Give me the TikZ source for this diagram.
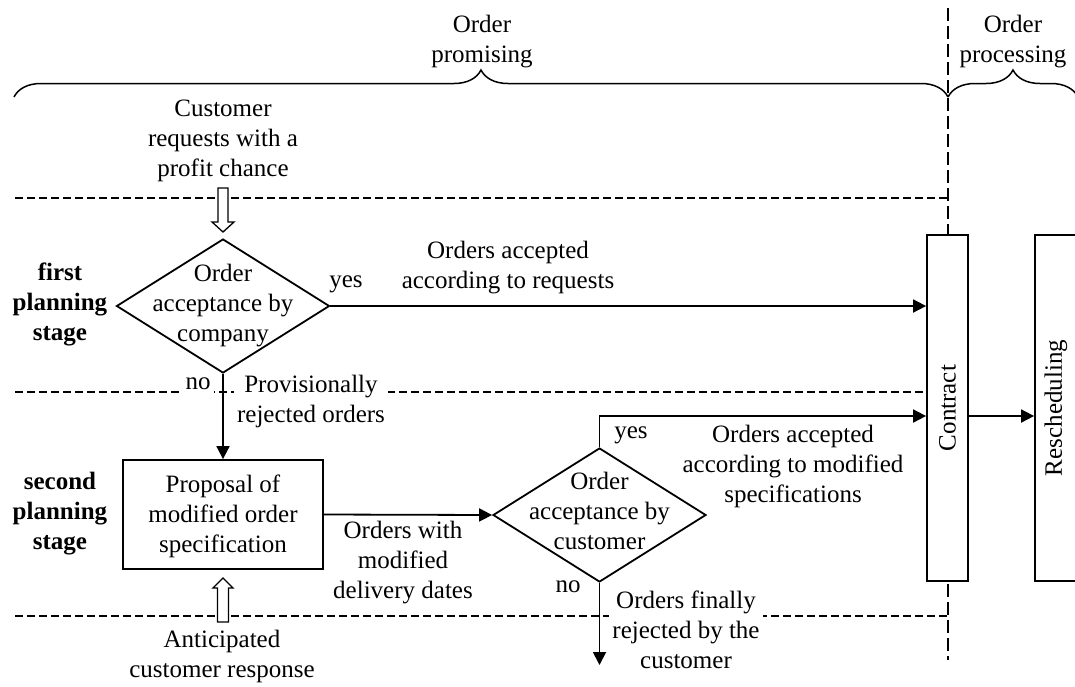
\documentclass[tikz,border=0pt]{standalone}
\usepackage{fontspec}
\setmainfont{Liberation Serif}
\usetikzlibrary{arrows.meta,shapes.geometric,decorations.pathreplacing,calc}
\begin{document}
\begin{tikzpicture}[x=1pt,y=-1pt,
  txt/.style={font=\fontsize{25}{30}\selectfont, align=center, inner sep=2pt},
  boldtxt/.style={txt, font=\fontsize{25}{30}\selectfont\bfseries},
  lbl/.style={txt, fill=white, inner sep=3pt},
  boxnode/.style={draw, line width=1.8pt, fill=white, inner sep=0pt},
  dia/.style={draw, diamond, line width=1.8pt, fill=white, inner sep=0pt, minimum width=213pt, minimum height=134pt},
  flow/.style={line width=1.8pt, -{Triangle[length=13pt,width=13pt]}},
  sepline/.style={line width=1.5pt, dash pattern=on 8pt off 4pt},
  vsepline/.style={line width=1.6pt, dash pattern=on 13pt off 5pt},
  hollow/.style={draw, fill=white, line width=1.3pt, line join=miter},
  br/.style={decorate, decoration={brace, amplitude=27pt}, line width=1.5pt}
]
\path[use as bounding box] (0,0) rectangle (1075,686);
\clip (0,0) rectangle (1075,686);

% separators
\draw[vsepline] (948,8) -- (948,660);
\draw[sepline] (15,198) -- (948,198);
\draw[sepline] (15,392) -- (927,392);
\draw[sepline] (15,616) -- (948,616);

% braces
\draw[br] (14,97) -- (948,97);
\draw[br] (948,97) -- (1078,97);
\node[txt] (promising) at (482,42) {Order\\promising};
\node[txt] (processing) at (1013,42) {Order\\processing};

% stage labels
\node[boldtxt] (first) at (60,304) {first\\planning\\stage};
\node[boldtxt] (second) at (60,514) {second\\planning\\stage};

% main shapes
\node[dia] (d1) at (223,306) {};
\node[txt] (d1t) at (223,306) {Order\\acceptance by\\company};
\node[boxnode, minimum width=200pt, minimum height=109pt] (prop) at (223,514.5) {};
\node[txt] (propt) at (223,516) {Proposal of\\modified order\\specification};
\node[dia] (d2) at (599.5,515) {};
\node[txt] (d2t) at (599.5,511) {Order\\acceptance by\\customer};
\node[boxnode, minimum width=41pt, minimum height=346pt] (contract) at (947.5,408) {};
\node[txt, rotate=90] (contractt) at (947.5,408) {Contract};
\node[boxnode, minimum width=42pt, minimum height=346pt] (resched) at (1056,408) {};
\node[txt, rotate=90] (reschedt) at (1056,408) {Rescheduling};

% inputs
\node[txt] (cust) at (223,141) {Customer\\requests with a\\profit chance};
\node[txt] (antic) at (222,656) {Anticipated\\customer response};
\coordinate (tip1) at (223,232);
\draw[hollow] (tip1) -- ++(-11,-10) -- ++(6,0) -- ++(0,-34) -- ++(10,0) -- ++(0,34) -- ++(6,0) -- cycle;
\coordinate (tip2) at (223,578);
\draw[hollow] (tip2) -- ++(-10,10) -- ++(4.5,0) -- ++(0,34) -- ++(11,0) -- ++(0,-34) -- ++(4.5,0) -- cycle;

% flows
\coordinate (rejend) at (599.5,665);
\draw[flow] (d1.east) -- (d1.east -| contract.west);
\draw[flow] (d1.south) -- (prop.north);
\draw[flow] (prop.east) -- (d2.west);
\draw[flow] (d2.north) |- ($(contract.west)+(0,8)$);
\draw[flow] ($(contract.east)+(0,8)$) -- ($(resched.west)+(0,8)$);
\draw[flow] (d2.south) -- (rejend);

% flow labels
\node[txt] (yes1) at (346,284) {yes};
\node[txt] (acc1) at (508,268) {Orders accepted\\according to requests};
\node[lbl] (no1) at (198,384) {no};
\node[lbl] (prov) at (311,401) {Provisionally\\rejected orders};
\node[txt] (withmod) at (403,563) {Orders with\\modified\\delivery dates};
\node[txt] (yes2) at (631,435) {yes};
\node[txt] (acc2) at (793,466) {Orders accepted\\according to modified\\specifications};
\node[txt] (no2) at (568,587) {no};
\node[lbl] (finrej) at (686,630) {Orders finally\\rejected by the\\customer};
\end{tikzpicture}
\end{document}
